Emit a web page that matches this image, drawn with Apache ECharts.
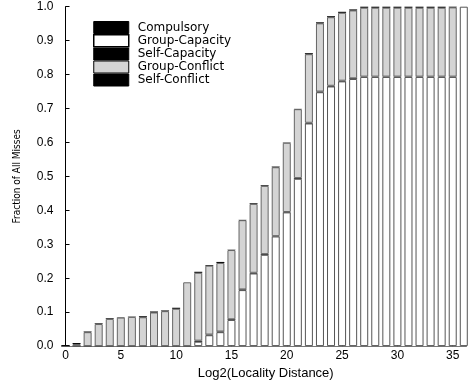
<!DOCTYPE html>
<html>
<head>
<meta charset="utf-8">
<script src="https://cdn.jsdelivr.net/npm/echarts@6/dist/echarts.min.js"></script>
<style>
  html, body { margin: 0; padding: 0; background: #fff; }
  #chart { width: 469px; height: 385px; }
</style>
</head>
<body>
<div id="chart"></div>
<script>
// Log2 of locality distance (one bar per bucket)
const distances = [0,1,2,3,4,5,6,7,8,9,10,11,12,13,14,15,16,17,18,19,20,21,22,23,24,25,26,27,28,29,30,31,32,33,34,35,36];

// Fraction of misses per class (stacked bottom to top)
const compulsory = [0,0,0,0,0,0,0,0,0,0,0,0,0,0,0,0,0,0,0,0,0,0,0,0,0,0,0,0,0,0,0,0,0,0,0,0,0];
const groupCapacity = [0,0,0,0,0,0,0,0,0,0,0,0,0.013,0.032,0.041,0.077,0.165,0.214,0.269,0.323,0.394,0.493,0.656,0.748,0.765,0.780,0.787,0.793,0.793,0.793,0.793,0.793,0.793,0.793,0.793,0.793,1.0];
const selfCapacity = [0,0,0,0,0,0,0,0,0,0,0,0,0.003,0.002,0.002,0.002,0.002,0.002,0.002,0.001,0.001,0.002,0.002,0.002,0.002,0.002,0.002,0.001,0.001,0.001,0.001,0.001,0.001,0.001,0.001,0.001,0];
const groupConflict = [0,0.006,0.041,0.065,0.080,0.084,0.086,0.085,0.099,0.103,0.110,0.188,0.200,0.203,0.202,0.204,0.204,0.203,0.201,0.203,0.204,0.203,0.202,0.201,0.202,0.200,0.200,0.203,0.203,0.203,0.203,0.203,0.203,0.203,0.203,0.204,0];
const selfConflict = [0.003,0.003,0.002,0.002,0.002,0.001,0.001,0.003,0.003,0.002,0.003,0,0.003,0.002,0.003,0.001,0.001,0.002,0.002,0.002,0.001,0.001,0.003,0.003,0.003,0.003,0.003,0.003,0.003,0.003,0.003,0.003,0.003,0.003,0.003,0.002,0];

const yTicks = ['0.0','0.1','0.2','0.3','0.4','0.5','0.6','0.7','0.8','0.9','1.0'];

const FONT = '"Liberation Sans", Arial, Helvetica, sans-serif';
const LEGEND_FONT = '"DejaVu Sans", Verdana, sans-serif';
// value first so the stack accumulates along the y dimension
const rows = arr => arr.map((v, i) => [v, distances[i]]);

function barSeries(name, values, fill, border) {
  return {
    name: name,
    type: 'bar',
    stack: 'misses',
    barWidth: 8,
    clip: true,
    data: rows(values),
    encode: { x: 1, y: 0 },
    itemStyle: border
      ? { color: fill, borderColor: border, borderWidth: 1 }
      : { color: fill, borderWidth: 0 },
    emphasis: { disabled: true },
    animation: false
  };
}

const chart = echarts.init(document.getElementById('chart'), null, { renderer: 'canvas' });
chart.setOption({
  animation: false,
  grid: { left: 65.5, right: 3, top: 6.7, bottom: 31.7, containLabel: false },
  legend: {
    orient: 'vertical',
    left: 93,
    top: 21,
    padding: 0,
    itemGap: 0,
    itemWidth: 35,
    itemHeight: 12,
    icon: 'rect',
    selectedMode: false,
    textStyle: { fontFamily: LEGEND_FONT, fontSize: 12, color: '#000', lineHeight: 12, padding: [0, 0, 0, 4] },
    data: [
      { name: 'Compulsory', itemStyle: { color: '#000', borderColor: '#000', borderWidth: 1 } },
      { name: 'Group-Capacity', itemStyle: { color: '#fff', borderColor: '#000', borderWidth: 1.5 } },
      { name: 'Self-Capacity', itemStyle: { color: '#000', borderColor: '#000', borderWidth: 1 } },
      { name: 'Group-Conflict', itemStyle: { color: '#d4d4d4', borderColor: '#000', borderWidth: 1 } },
      { name: 'Self-Conflict', itemStyle: { color: '#000', borderColor: '#000', borderWidth: 1 } }
    ]
  },
  xAxis: [
    {
      type: 'value',
      min: 0,
      max: 36.2,
      interval: 5,
      name: 'Log2(Locality Distance)',
      nameLocation: 'middle',
      nameGap: 17,
      nameTextStyle: { fontFamily: FONT, fontSize: 13, color: '#000', verticalAlign: 'top' },
      axisLine: { show: true, onZero: false, lineStyle: { color: '#000', width: 1 } },
      axisTick: { show: true, inside: true, length: 4, lineStyle: { color: '#000' } },
      axisLabel: {
        fontFamily: FONT, fontSize: 12, color: '#000', margin: 4,
        showMaxLabel: false,
        formatter: v => (v % 5 === 0 ? String(v) : '')
      },
      splitLine: { show: false }
    },
    {
      type: 'value',
      position: 'top',
      min: 0,
      max: 36.2,
      axisLine: { show: true, lineStyle: { color: '#777', width: 1 } },
      axisTick: { show: false },
      axisLabel: { show: false },
      splitLine: { show: false }
    }
  ],
  yAxis: {
    type: 'value',
    min: 0,
    max: 1,
    interval: 0.1,
    name: 'Fraction of All Misses',
    nameLocation: 'middle',
    nameGap: 43,
    nameRotate: 90,
    nameTextStyle: { fontFamily: '"Liberation Sans Narrow", "DejaVu Sans Condensed", Arial, sans-serif', fontSize: 10, color: '#000' },
    axisLine: { show: true, lineStyle: { color: '#000', width: 1 } },
    axisTick: { show: true, inside: true, length: 4, lineStyle: { color: '#000' } },
    axisLabel: {
      fontFamily: FONT, fontSize: 12, color: '#000', margin: 12,
      formatter: v => yTicks[Math.round(v * 10)]
    },
    splitLine: { show: false }
  },
  series: [
    barSeries('Compulsory', compulsory, '#000', null),
    barSeries('Group-Capacity', groupCapacity, '#fff', '#555'),
    barSeries('Self-Capacity', selfCapacity, '#000', null),
    barSeries('Group-Conflict', groupConflict, '#d4d4d4', '#666'),
    barSeries('Self-Conflict', selfConflict, '#000', null)
  ]
});
</script>
</body>
</html>
